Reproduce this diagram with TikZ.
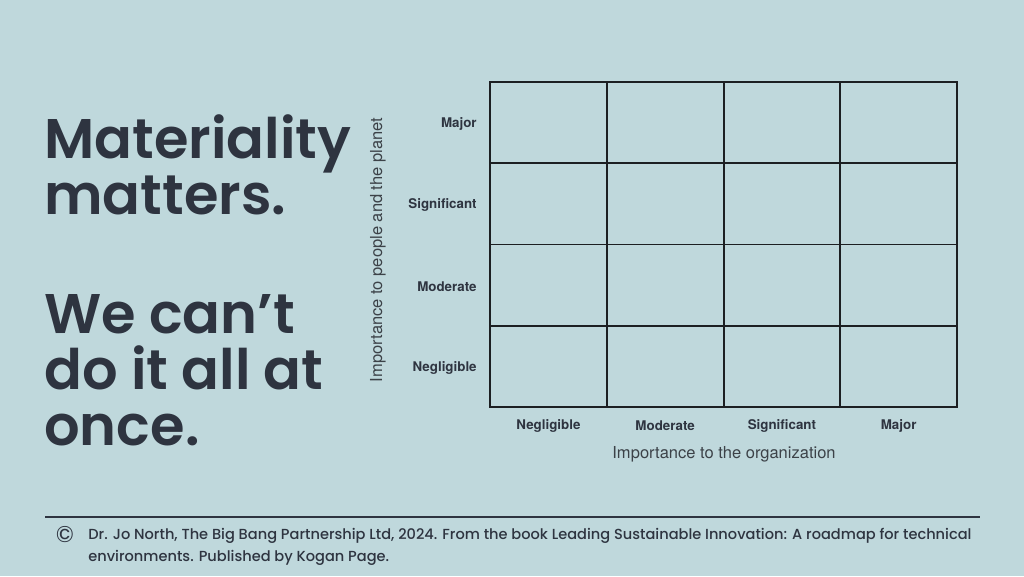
\documentclass[tikz,border=0pt]{standalone}
\usepackage{fontspec}
\setmainfont{Poppins}
\newfontfamily\titlefont{Poppins SemiBold}
\newfontfamily\creditfont{Poppins Medium}
\newfontfamily\labelfont{TeX Gyre Heros}
\usetikzlibrary{positioning}
\definecolor{bgblue}{HTML}{BFD8DC}
\definecolor{inkdark}{HTML}{2E3440}
\definecolor{gridline}{HTML}{1C1F22}
\definecolor{axisgrey}{HTML}{3C4248}

\begin{document}
\begin{tikzpicture}[
    x=0.02cm, y=-0.02cm,
    cell/.style={rectangle, draw=gridline, line width=1.1pt, minimum width=2.335cm, minimum height=1.625cm, inner sep=0pt},
    headline/.style={anchor=north west, align=left, inner sep=0pt, text=inkdark, font=\titlefont\fontsize{31.8}{32}\selectfont},
    tick/.style={inner sep=0pt, text=inkdark, font=\labelfont\bfseries\fontsize{7.6}{9}\selectfont},
    axistitle/.style={inner sep=0pt, text=axisgrey, font=\labelfont\fontsize{9.4}{11}\selectfont},
    credit/.style={anchor=north west, align=left, inner sep=0pt, text=inkdark, font=\creditfont\fontsize{8.3}{12.5}\selectfont}
]
    \useasboundingbox[fill=bgblue] (0,0) rectangle (1024,576);

    % title text
    \node[headline] (head1) at (44,114) {Materiality\\matters.};
    \node[headline] (head2) at (44,294) {We can\textquoteright t\\do it all at\\once.};

    % matrix
    \foreach \i in {0,...,3}
        \foreach \j in {0,...,3}
            \node[cell] (cell-\i-\j) at ({548.4+116.75*\i},{122.6+81.25*\j}) {};

    \foreach \lab [count=\j from 0] in {Major,Significant,Moderate,Negligible}
        \node[tick, anchor=east] (row-\j) at (477,{124+81.25*\j}) {\lab};
    \foreach \lab [count=\i from 0] in {Negligible,Moderate,Significant,Major}
        \node[tick] (col-\i) at ({548.4+116.75*\i},426) {\lab};

    \node[axistitle] (xaxis) at (724,454) {Importance to the organization};
    \node[axistitle, rotate=90] (yaxis) at (378,250) {Importance to people and the planet};

    % footer
    \coordinate (rule-l) at (45,517);
    \coordinate (rule-r) at (980,517);
    \draw[draw=inkdark, line width=0.6pt] (rule-l) -- (rule-r);
    \node[text=inkdark, inner sep=0pt, font=\fontsize{13}{13}\selectfont] (copy) at (65,535) {©};
    \node[credit] (source) at (88,528) {Dr. Jo North, The Big Bang Partnership Ltd, 2024. From the book Leading Sustainable Innovation: A roadmap for technical\\environments. Published by Kogan Page.};
\end{tikzpicture}
\end{document}
